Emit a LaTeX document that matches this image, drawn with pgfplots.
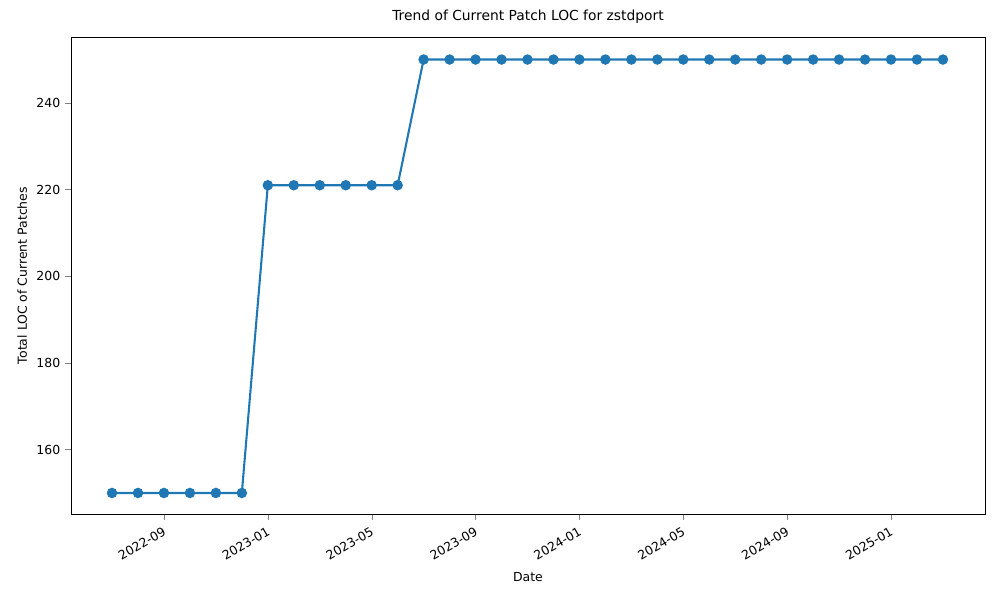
\documentclass[border=0pt]{standalone}
\usepackage{pgfplots}
\pgfplotsset{compat=1.18}
\usepackage{fontspec}
\setmainfont{DejaVu Sans}
\begin{document}
\begin{tikzpicture}
\begin{axis}[
  scale only axis, width=9.14in, height=4.77in,
  xmin=-1.58, xmax=33.62, ymin=145.15, ymax=255.2,
  xtick={2,6,10,14,18,22,26,30},
  xticklabels={2022-09,2023-01,2023-05,2023-09,2024-01,2024-05,2024-09,2025-01},
  xticklabel style={rotate=30, anchor=north east, font=\small},
  yticklabel style={font=\small},
  ytick={160,180,200,220,240},
  /pgf/number format/assume math mode=true,
  tick align=outside, tick pos=left,
  xlabel={Date}, ylabel={Total LOC of Current Patches},
  title={Trend of Current Patch LOC for zstdport},
  label style={font=\small},
  title style={font=\normalsize},
]
\addplot[color={rgb,255:red,31;green,119;blue,180}, line width=1.5pt, mark=*, mark size=3pt] coordinates {
(0,150)(1,150)(2,150)(3,150)(4,150)(5,150)
(6,221)(7,221)(8,221)(9,221)(10,221)(11,221)
(12,250)(13,250)(14,250)(15,250)(16,250)(17,250)(18,250)(19,250)(20,250)(21,250)
(22,250)(23,250)(24,250)(25,250)(26,250)(27,250)(28,250)(29,250)(30,250)(31,250)(32,250)
};
\end{axis}
\pgfresetboundingbox
\path[use as bounding box] (-0.71in,-0.86in) rectangle (9.29in,5.14in);
\end{tikzpicture}
\end{document}
